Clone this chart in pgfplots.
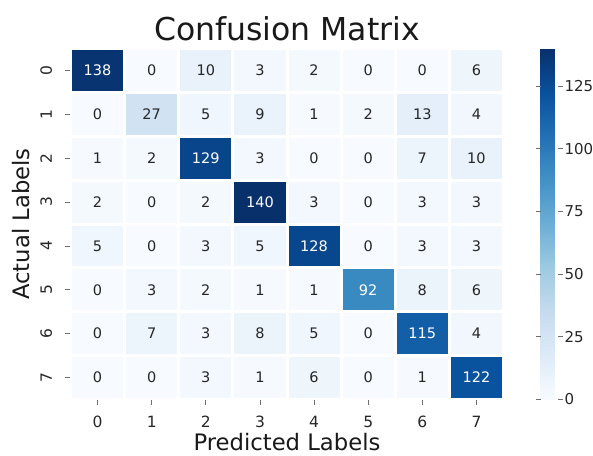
\documentclass[border=0pt]{standalone}
\usepackage{fontspec}
\setmainfont{DejaVu Sans}
\usepackage{pgfplots}
\usepackage{pgfplotstable}
\pgfplotsset{compat=1.18}
\definecolor{txtdark}{RGB}{38,38,38}
\definecolor{tickgray}{RGB}{110,110,110}

\pgfplotstableread{
r c v
0 0 138
0 1 0
0 2 10
0 3 3
0 4 2
0 5 0
0 6 0
0 7 6
1 0 0
1 1 27
1 2 5
1 3 9
1 4 1
1 5 2
1 6 13
1 7 4
2 0 1
2 1 2
2 2 129
2 3 3
2 4 0
2 5 0
2 6 7
2 7 10
3 0 2
3 1 0
3 2 2
3 3 140
3 4 3
3 5 0
3 6 3
3 7 3
4 0 5
4 1 0
4 2 3
4 3 5
4 4 128
4 5 0
4 6 3
4 7 3
5 0 0
5 1 3
5 2 2
5 3 1
5 4 1
5 5 92
5 6 8
5 7 6
6 0 0
6 1 7
6 2 3
6 3 8
6 4 5
6 5 0
6 6 115
6 7 4
7 0 0
7 1 0
7 2 3
7 3 1
7 4 6
7 5 0
7 6 1
7 7 122
}\cm

\begin{document}
\begin{tikzpicture}
\useasboundingbox (-70.5pt,-55.5pt) rectangle (522.5pt,399.5pt);
\begin{axis}[
  at={(0,0)}, anchor=south west,
  scale only axis, width=433pt, height=351pt,
  xmin=-0.5, xmax=7.5, ymin=-0.5, ymax=7.5,
  colormap={blues}{rgb255=(247,251,255) rgb255=(222,235,247) rgb255=(198,219,239) rgb255=(158,202,225) rgb255=(107,174,214) rgb255=(66,146,198) rgb255=(33,113,181) rgb255=(8,81,156) rgb255=(8,48,107)},
  point meta min=0, point meta max=140,
  axis line style={draw=none},
  axis on top,
  tick align=outside, major tick length=5pt, minor tick length=0pt,
  tick style={tickgray, line width=0.8pt},
  xtick={0,...,7}, ytick={0,...,7},
  xticklabels={0,1,2,3,4,5,6,7},
  yticklabels={7,6,5,4,3,2,1,0},
  xtick pos=bottom, ytick pos=left,
  minor xtick={-0.5,0.5,...,7.5}, minor ytick={-0.5,0.5,...,7.5},
  xminorgrids=true, yminorgrids=true,
  minor grid style={white, line width=3pt},
  ticklabel style={font=\fontsize{15.5}{18}\selectfont, text=txtdark},
  xticklabel style={anchor=base, yshift=-22.5pt},
  yticklabel style={xshift=-13.5pt, rotate=90, anchor=base},
  title={Confusion Matrix},
  xlabel={Predicted Labels},
  ylabel={Actual Labels},
  every axis title/.style={at={(axis description cs:0.5,1.0242)}, anchor=base, font=\fontsize{31.5}{36}\selectfont, text=black!90},
  every axis x label/.style={at={(axis description cs:0.5,-0.1453)}, anchor=base, font=\fontsize{22.7}{26}\selectfont, text=black!90},
  every axis y label/.style={at={(axis description cs:-0.0958,0.5)}, rotate=90, anchor=base, font=\fontsize{22.7}{26}\selectfont, text=black!90},
  colorbar,
  colorbar style={
    at={(parent axis.north east)}, anchor=north west, xshift=28.5pt,
    scale only axis, width=17pt, height=351pt,
    axis line style={draw=none},
    ytick={0,25,50,75,100,125},
    tick align=outside, major tick length=5pt,
    tick style={tickgray, line width=0.8pt},
    yticklabel style={font=\fontsize{15}{18}\selectfont, text=txtdark, xshift=-1.5pt},
    /pgf/number format/assume math mode=true,
  },
]
\addplot[matrix plot*, mesh/cols=8, point meta=explicit]
  table[x=c, y expr=7-\thisrow{r}, meta=v]{\cm};
\addplot[draw=none, mark=none, nodes near coords, point meta=explicit symbolic,
  restrict expr to domain={\thisrow{v}}{50:1000},
  nodes near coords align={center},
  every node near coord/.append style={anchor=center, text=white, font=\fontsize{14.5}{17}\selectfont}]
  table[x=c, y expr=7-\thisrow{r}, meta=v]{\cm};
\addplot[draw=none, mark=none, nodes near coords, point meta=explicit symbolic,
  restrict expr to domain={\thisrow{v}}{-1:49},
  nodes near coords align={center},
  every node near coord/.append style={anchor=center, text=txtdark, font=\fontsize{14.5}{17}\selectfont}]
  table[x=c, y expr=7-\thisrow{r}, meta=v]{\cm};
\end{axis}
\end{tikzpicture}
\end{document}
